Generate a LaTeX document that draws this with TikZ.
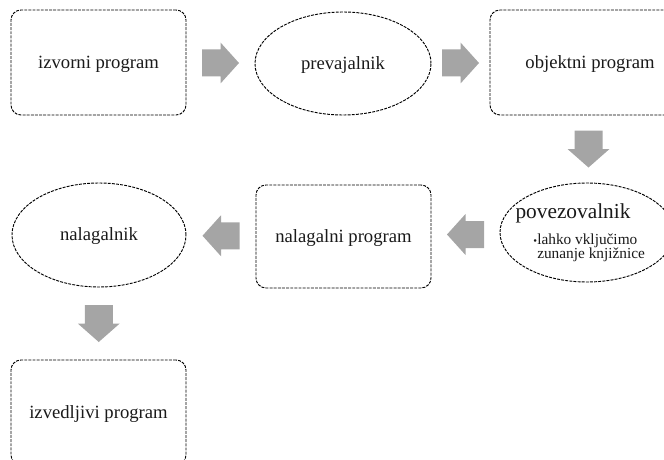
\documentclass[tikz,border=0pt]{standalone}
\usepackage{fontspec}
\setmainfont{Liberation Serif}
\usetikzlibrary{shapes.geometric,calc}
\definecolor{arrowgray}{HTML}{A5A5A5}
\definecolor{txt}{HTML}{1A1A1A}
\tikzset{
  x=0.75pt, y=-0.75pt,
  outl/.style={draw=black, line width=0.7pt, dash pattern=on 2.2pt off 0.9pt, fill=white, text=txt,
    font=\fontsize{14}{16}\selectfont, inner sep=0pt, text height=8.6pt, text depth=0pt},
  rbox/.style={outl, rectangle, rounded corners=7.5pt},
  ell/.style={outl, ellipse},
  rarrow/.pic={\fill[arrowgray] (-18.5,-13.5) -- (0,-13.5) -- (0,-20.5) -- (18.5,0) -- (0,20.5) -- (0,13.5) -- (-18.5,13.5) -- cycle;},
  darrow/.pic={\fill[arrowgray] (-14,-18.5) -- (-14,0) -- (-21,0) -- (0,18.5) -- (21,0) -- (14,0) -- (14,-18.5) -- cycle;}
}
\begin{document}
\begin{tikzpicture}
\useasboundingbox (0,0) rectangle (664,460);
\clip (0,0) rectangle (664,460);
% row 1
\node[rbox, minimum width=131.25pt, minimum height=78.75pt] (B1) at (98.5,62.5) {izvorni program};
\node[ell, minimum width=132pt, minimum height=77.25pt] (E1) at (343,63.5) {prevajalnik};
\node[rbox, minimum width=150pt, minimum height=78.75pt] (B2) at (590,62.5) {objektni program};
% row 2
\node[ell, minimum width=130.5pt, minimum height=74.25pt] (E3) at (587,232.5) {};
\node[text=txt, font=\fontsize{16}{18}\selectfont, inner sep=0pt] (E3t) at (573,213) {povezovalnik};
\node[text=txt, font=\fontsize{11.5}{10.5}\selectfont, inner sep=0pt, anchor=north west, align=left] (E3b) at (533,234)
  {\makebox[3pt][l]{\fontsize{8}{8}\selectfont•}lahko vključimo\\\hspace*{3pt}zunanje knjižnice};
\node[rbox, minimum width=131.25pt, minimum height=77.25pt] (B3) at (343.5,236.5) {nalagalni program};
\node[ell, minimum width=130.5pt, minimum height=78pt] (E2) at (99,235) {nalagalnik};
% row 3
\node[rbox, minimum width=131.25pt, minimum height=78.75pt] (B4) at (98.5,412.5) {izvedljivi program};
% block arrows
\pic at ($(B1.east)!0.5!(E1.west)$) {rarrow};
\pic at ($(E1.east)!0.5!(B2.west)$) {rarrow};
\pic at ($(B2.south)!0.5!(E3.north)$) {darrow};
\pic[xscale=-1] at ($(E3.west)!0.5!(B3.east)$) {rarrow};
\pic[xscale=-1] at ($(B3.west)!0.5!(E2.east)$) {rarrow};
\pic at ($(E2.south)!0.5!(B4.north)$) {darrow};
\end{tikzpicture}
\end{document}
